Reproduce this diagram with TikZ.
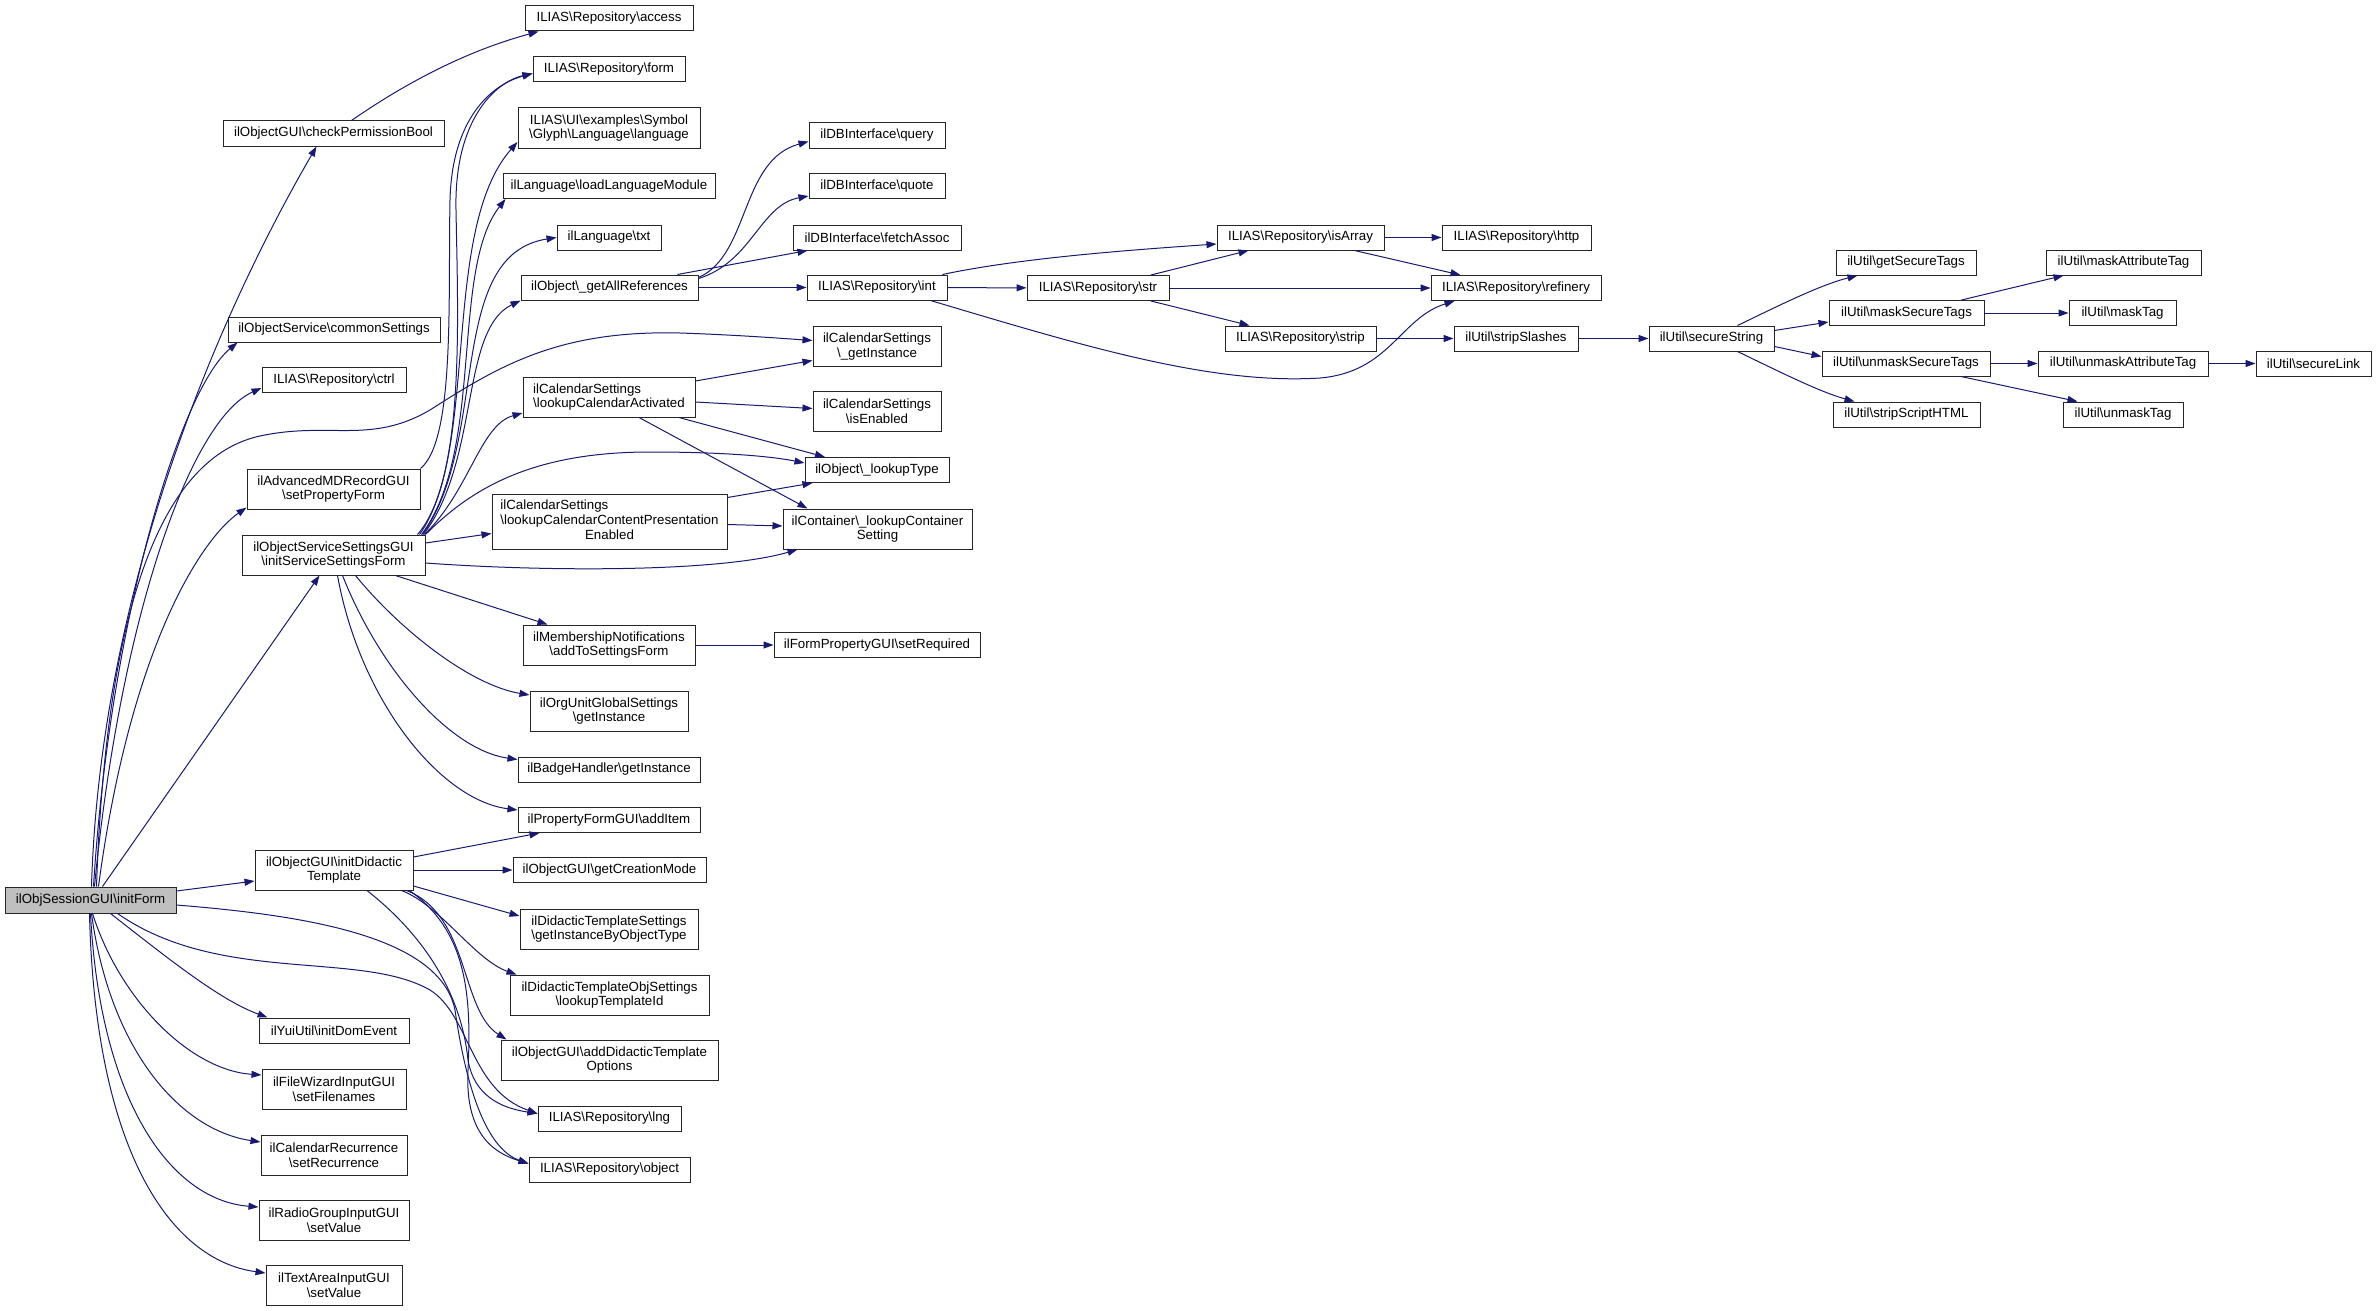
\documentclass[tikz,border=0pt]{standalone}
\usepackage{fontspec}
\setmainfont{Liberation Sans}
\usepackage{tikz}
\usetikzlibrary{arrows.meta}
\definecolor{callblue}{RGB}{25,25,112}
\definecolor{rootgray}{RGB}{191,191,191}
\tikzstyle{fn}=[draw=black!85, line width=1pt, fill=white, inner sep=0pt,
minimum height=25, font=\fontsize{13.3}{14.6}\selectfont]
\tikzstyle{fntwo}=[fn, minimum height=40, align=center]
\tikzstyle{root}=[fn, fill=rootgray]
\tikzstyle{call}=[draw=callblue, line width=1pt, -{Triangle[length=10pt,width=7pt]}]
\newcommand{\bs}{\textbackslash}

\begin{document}
\begin{tikzpicture}[x=1pt,y=-1pt]
\fill[white] (0,0) rectangle (2376,1311);
\useasboundingbox (0,0) rectangle (2376,1311);

\node[root, minimum width=171, minimum height=26] (initForm) at (90.5,900) {ilObjSessionGUI\bs initForm};

\node[fn, minimum width=221] (checkPerm) at (333.5,133.5) {ilObjectGUI\bs checkPermissionBool};
\node[fn, minimum width=212] (commonSettings) at (334,329.5) {ilObjectService\bs commonSettings};
\node[fn, minimum width=144] (ctrl) at (334,380) {ILIAS\bs Repository\bs ctrl};
\node[fntwo, minimum width=173] (setPropForm) at (333.5,489) {ilAdvancedMDRecordGUI\\\bs setPropertyForm};
\node[fntwo, minimum width=183] (initSSF) at (333.5,555) {ilObjectServiceSettingsGUI\\\bs initServiceSettingsForm};
\node[fntwo, minimum width=158] (initDT) at (334,870) {ilObjectGUI\bs initDidactic\\Template};
\node[fn, minimum width=150] (domEvent) at (334,1030.5) {ilYuiUtil\bs initDomEvent};
\node[fntwo, minimum width=144] (setFilenames) at (334,1089) {ilFileWizardInputGUI\\\bs setFilenames};
\node[fntwo, minimum width=146] (setRecurrence) at (334,1155) {ilCalendarRecurrence\\\bs setRecurrence};
\node[fntwo, minimum width=150] (radioValue) at (334,1220) {ilRadioGroupInputGUI\\\bs setValue};
\node[fntwo, minimum width=136] (textAreaValue) at (334,1285) {ilTextAreaInputGUI\\\bs setValue};

\node[fn, minimum width=168] (access) at (609,18.5) {ILIAS\bs Repository\bs access};
\node[fn, minimum width=152] (form) at (609,69.5) {ILIAS\bs Repository\bs form};
\node[fntwo, minimum width=182] (symbolLang) at (609,128) {ILIAS\bs UI\bs examples\bs Symbol\\\bs Glyph\bs Language\bs language};
\node[fn, minimum width=212] (loadLang) at (609,186) {ilLanguage\bs loadLanguageModule};
\node[fn, minimum width=104] (txt) at (609,237.5) {ilLanguage\bs txt};
\node[fn, minimum width=177] (allRefs) at (609.5,287.5) {ilObject\bs\_getAllReferences};
\node[fntwo, align=left, minimum width=172] (calActivated) at (609,397) {ilCalendarSettings\\\bs lookupCalendarActivated};
\node[fn, minimum width=235, minimum height=55] (calContent) at (609.5,521.5) {\begin{tabular}{@{}l@{}}ilCalendarSettings\\\bs lookupCalendarContentPresentation\\\multicolumn{1}{@{}c@{}}{Enabled}\end{tabular}};
\node[fntwo, minimum width=172] (membership) at (609,645) {ilMembershipNotifications\\\bs addToSettingsForm};
\node[fntwo, minimum width=158] (orgUnit) at (609,711) {ilOrgUnitGlobalSettings\\\bs getInstance};
\node[fn, minimum width=182] (badge) at (609,769.5) {ilBadgeHandler\bs getInstance};
\node[fn, minimum width=182] (addItem) at (609,820) {ilPropertyFormGUI\bs addItem};
\node[fn, minimum width=193] (creationMode) at (609.5,870) {ilObjectGUI\bs getCreationMode};
\node[fntwo, minimum width=178] (dtSettings) at (609,929) {ilDidacticTemplateSettings\\\bs getInstanceByObjectType};
\node[fntwo, minimum width=199] (templateId) at (609.5,995) {ilDidacticTemplateObjSettings\\\bs lookupTemplateId};
\node[fntwo, minimum width=217] (dtOptions) at (609.5,1060) {ilObjectGUI\bs addDidacticTemplate\\Options};
\node[fn, minimum width=143] (lng) at (609.5,1118.5) {ILIAS\bs Repository\bs lng};
\node[fn, minimum width=161] (object) at (609.5,1169.5) {ILIAS\bs Repository\bs object};

\node[fn, minimum width=136] (query) at (877,135.5) {ilDBInterface\bs query};
\node[fn, minimum width=136] (quote) at (877,186) {ilDBInterface\bs quote};
\node[fn, minimum width=168] (fetchAssoc) at (877,237.5) {ilDBInterface\bs fetchAssoc};
\node[fn, minimum width=140] (int) at (877,287.5) {ILIAS\bs Repository\bs int};
\node[fntwo, minimum width=128] (calInstance) at (877,346.5) {ilCalendarSettings\\\bs\_getInstance};
\node[fntwo, minimum width=128] (isEnabled) at (877,411.5) {ilCalendarSettings\\\bs isEnabled};
\node[fn, minimum width=144] (lookupType) at (877,470) {ilObject\bs\_lookupType};
\node[fntwo, minimum width=189] (containerSetting) at (877.5,529) {ilContainer\bs\_lookupContainer\\Setting};
\node[fn, minimum width=206] (setRequired) at (877,645) {ilFormPropertyGUI\bs setRequired};

\node[fn, minimum width=142] (str) at (1098,288) {ILIAS\bs Repository\bs str};
\node[fn, minimum width=167] (isArray) at (1300.5,237.5) {ILIAS\bs Repository\bs isArray};
\node[fn, minimum width=151] (strip) at (1300.5,338.5) {ILIAS\bs Repository\bs strip};
\node[fn, minimum width=149] (http) at (1516.5,237.5) {ILIAS\bs Repository\bs http};
\node[fn, minimum width=170] (refinery) at (1516,288) {ILIAS\bs Repository\bs refinery};
\node[fn, minimum width=124] (stripSlashes) at (1516,338.5) {ilUtil\bs stripSlashes};
\node[fn, minimum width=125] (secureString) at (1711.5,338.5) {ilUtil\bs secureString};
\node[fn, minimum width=140] (getSecureTags) at (1906,262.5) {ilUtil\bs getSecureTags};
\node[fn, minimum width=155] (maskSecureTags) at (1906.5,313) {ilUtil\bs maskSecureTags};
\node[fn, minimum width=168] (unmaskSecureTags) at (1906,363.5) {ilUtil\bs unmaskSecureTags};
\node[fn, minimum width=147] (stripScript) at (1906.5,414.5) {ilUtil\bs stripScriptHTML};
\node[fn, minimum width=155] (maskAttr) at (2123.5,262.5) {ilUtil\bs maskAttributeTag};
\node[fn, minimum width=107] (maskTag) at (2122.5,313) {ilUtil\bs maskTag};
\node[fn, minimum width=170] (unmaskAttr) at (2123,363.5) {ilUtil\bs unmaskAttributeTag};
\node[fn, minimum width=120] (unmaskTag) at (2123,414.5) {ilUtil\bs unmaskTag};
\node[fn, minimum width=115] (secureLink) at (2313.5,363.5) {ilUtil\bs secureLink};

\draw[call] ([xshift=1pt]initForm.north) .. controls (100,600) and (210,330) .. ([xshift=-17pt]checkPerm.south);
\draw[call] ([xshift=3pt]initForm.north) .. controls (110,620) and (180,390) .. ([xshift=10pt]commonSettings.south west);
\draw[call] ([xshift=4pt]initForm.north) .. controls (120,620) and (190,420) .. ([yshift=-8pt]ctrl.west);
\draw[call] ([xshift=6pt]initForm.north) .. controls (105,640) and (150,460) .. (260,436) .. controls (330,421) and (370,445) .. (430,410) .. controls (500,365) and (560,330) .. (680,333) .. controls (740,335) and (790,339) .. ([yshift=6pt]calInstance.west);
\draw[call] ([xshift=8pt]initForm.north) .. controls (130,650) and (200,540) .. ([yshift=2pt]setPropForm.south west);
\draw[call] ([xshift=12pt]initForm.north) -- ([xshift=-14pt]initSSF.south);
\draw[call] ([yshift=9pt]initForm.east) -- ([yshift=-11pt]initDT.west);
\draw[call] ([yshift=-5pt]initForm.east) .. controls (300,915) and (440,935) .. (455,1010) .. controls (468,1100) and (490,1150) .. ([yshift=6pt]object.west);
\draw[call] ([xshift=27pt]initForm.south) .. controls (220,985) and (360,950) .. (430,990) .. controls (470,1015) and (470,1090) .. ([yshift=5pt]lng.west);
\draw[call] ([xshift=20pt]initForm.south) .. controls (170,960) and (220,1000) .. ([xshift=9pt]domEvent.north west);
\draw[call] ([xshift=2pt]initForm.south) .. controls (120,1000) and (190,1070) .. ([yshift=14pt]setFilenames.west);
\draw[call] ([xshift=1pt]initForm.south) .. controls (110,1050) and (180,1130) .. ([yshift=13pt]setRecurrence.west);
\draw[call] (initForm.south) .. controls (100,1100) and (170,1200) .. ([yshift=13pt]radioValue.west);
\draw[call] ([xshift=-1pt]initForm.south) .. controls (95,1150) and (170,1260) .. ([yshift=12pt]textAreaValue.west);

\draw[call] ([xshift=18pt]checkPerm.north) .. controls (410,80) and (470,50) .. ([xshift=14pt]access.south west);
\draw[call] (setPropForm.north east) .. controls (455,440) and (448,300) .. (450,200) .. controls (452,120) and (490,85) .. ([yshift=-4pt]form.west);

\draw[call] ([xshift=-8pt]initSSF.north east) .. controls (465,480) and (458,320) .. (456,210) .. controls (454,120) and (495,82) .. ([yshift=-4pt]form.west);
\draw[call] ([xshift=-6pt]initSSF.north east) .. controls (480,450) and (440,230) .. ([yshift=-14pt]symbolLang.west);
\draw[call] ([xshift=-4pt]initSSF.north east) .. controls (485,450) and (450,270) .. ([xshift=3pt]loadLang.south west);
\draw[call] ([xshift=-3pt]initSSF.north east) .. controls (490,440) and (445,255) .. (txt.west);
\draw[call] ([xshift=-2pt]initSSF.north east) .. controls (480,460) and (460,330) .. (allRefs.south west);
\draw[call] ([xshift=-1pt]initSSF.north east) .. controls (470,490) and (480,425) .. ([yshift=-16pt]calActivated.west);
\draw[call] ([yshift=12pt]initSSF.east) -- ([yshift=-12pt]calContent.west);
\draw[call] (initSSF.north east) .. controls (470,490) and (530,452) .. (650,452) .. controls (720,452) and (770,456) .. ([yshift=7pt]lookupType.west);
\draw[call] ([yshift=-8pt]initSSF.east) .. controls (550,572) and (720,572) .. ([xshift=15pt]containerSetting.south west);
\draw[call] ([xshift=-30pt]initSSF.south east) -- ([xshift=25pt]membership.north west);
\draw[call] ([xshift=22pt]initSSF.south) .. controls (400,630) and (470,685) .. ([yshift=16pt]orgUnit.west);
\draw[call] ([xshift=9pt]initSSF.south) .. controls (380,670) and (450,750) .. ([yshift=10pt]badge.west);
\draw[call] ([xshift=4pt]initSSF.south) .. controls (360,700) and (440,800) .. ([yshift=10pt]addItem.west);

\draw[call] ([yshift=16pt]calActivated.east) -- ([yshift=-14pt]calInstance.west);
\draw[call] ([yshift=-5pt]calActivated.east) -- ([yshift=3pt]isEnabled.west);
\draw[call] ([xshift=70pt]calActivated.south) -- ([xshift=-52pt]lookupType.north);
\draw[call] ([xshift=30pt]calActivated.south) -- ([xshift=25pt]containerSetting.north west);
\draw[call] ([yshift=24pt]calContent.east) -- ([xshift=8pt]lookupType.south west);
\draw[call] ([yshift=-3pt]calContent.east) -- ([yshift=3pt]containerSetting.west);
\draw[call] (membership) -- (setRequired);

\draw[call] (allRefs) -- (int);
\draw[call] ([xshift=68pt]allRefs.north) -- ([xshift=15pt]fetchAssoc.south west);
\draw[call] ([yshift=10pt]allRefs.east) .. controls (750,255) and (740,160) .. ([yshift=-6pt]query.west);
\draw[call] ([yshift=9pt]allRefs.east) .. controls (752,262) and (760,205) .. ([yshift=-10pt]quote.west);

\draw[call] (int) -- (str);
\draw[call] ([xshift=-5pt]int.north east) .. controls (1020,258) and (1130,250) .. ([yshift=-6.5pt]isArray.west);
\draw[call] ([xshift=-17pt]int.south east) .. controls (1080,345) and (1210,385) .. (1320,378) .. controls (1390,372) and (1400,318) .. ([xshift=24pt]refinery.south west);
\draw[call] ([xshift=53pt]str.north) -- ([xshift=32pt]isArray.south west);
\draw[call] (str) -- (refinery);
\draw[call] ([xshift=53pt]str.south) -- ([xshift=25pt]strip.north west);
\draw[call] (isArray) -- (http);
\draw[call] ([xshift=54pt]isArray.south) -- ([xshift=30pt]refinery.north west);
\draw[call] (strip) -- (stripSlashes);
\draw[call] (stripSlashes) -- (secureString);

\draw[call] ([xshift=26pt]secureString.north) .. controls (1780,305) and (1820,285) .. ([xshift=22pt]getSecureTags.south west);
\draw[call] ([yshift=8pt]secureString.east) -- ([yshift=-9pt]maskSecureTags.west);
\draw[call] ([yshift=-8pt]secureString.east) -- ([yshift=7pt]unmaskSecureTags.west);
\draw[call] ([xshift=26pt]secureString.south) .. controls (1780,372) and (1820,392) .. ([xshift=22pt]stripScript.north west);
\draw[call] ([xshift=55pt]maskSecureTags.north) -- ([xshift=18pt]maskAttr.south west);
\draw[call] (maskSecureTags) -- (maskTag);
\draw[call] (unmaskSecureTags) -- (unmaskAttr);
\draw[call] ([xshift=55pt]unmaskSecureTags.south) -- ([xshift=15pt]unmaskTag.north west);
\draw[call] (unmaskAttr) -- (secureLink);

\draw[call] ([yshift=13pt]initDT.east) -- ([xshift=22pt]addItem.south west);
\draw[call] (initDT) -- (creationMode);
\draw[call] ([yshift=-16pt]initDT.east) -- ([yshift=13pt]dtSettings.west);
\draw[call] ([xshift=-12pt]initDT.south east) .. controls (440,905) and (475,960) .. ([xshift=7pt]templateId.north west);
\draw[call] ([xshift=-7pt]initDT.south east) .. controls (470,915) and (460,1010) .. ([xshift=6pt]dtOptions.north west);
\draw[call] ([xshift=33pt]initDT.south) .. controls (430,940) and (462,1000) .. (468,1060) .. controls (474,1095) and (500,1108) .. ([yshift=5pt]lng.west);
\draw[call] ([xshift=-4pt]initDT.south east) .. controls (465,930) and (472,990) .. (468,1070) .. controls (465,1130) and (490,1152) .. ([yshift=6pt]object.west);
\end{tikzpicture}
\end{document}
